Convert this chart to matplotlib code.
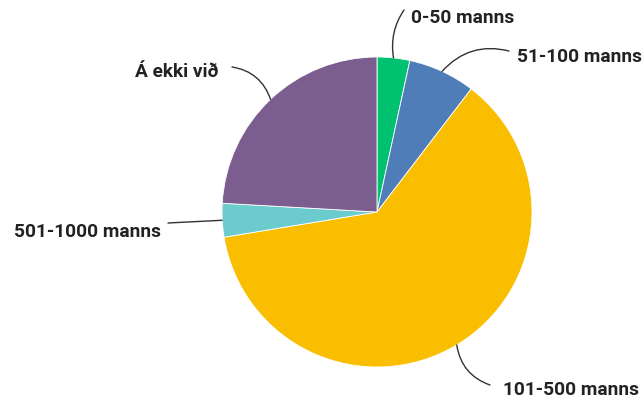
import numpy as np
import matplotlib.pyplot as plt

# Share of responses per size group (percent)
labels = ["0-50 manns", "51-100 manns", "101-500 manns", "501-1000 manns", "Á ekki við"]
values = [3.4, 7.0, 62.0, 3.5, 24.1]
colors = ["#00c170", "#4f7db7", "#f9be00", "#6ccbcd", "#7b5e8f"]

# label text placement (pixel coords, y from top) and line start
text_pos = [(411, 18), (517, 57), (503, 390), (14, 232), (218, 72)]
text_ha = ["left", "left", "left", "left", "right"]
line_start = [(404, 11), (509, 52), (490, 386), (168, 224), (232, 68)]
line_rad = [0.2, 0.3, -0.3, 0.0, -0.3]

W, H = 644, 402
fig = plt.figure(figsize=(W / 100, H / 100), dpi=100)
ax = fig.add_axes([0, 0, 1, 1])

cx, cy, r = 377, H - 213, 155
wedges, _ = ax.pie(values, colors=colors, startangle=90, counterclock=False,
                   center=(cx, cy), radius=r, frame=True,
                   wedgeprops=dict(edgecolor="white", linewidth=0.6))
ax.set_xlim(0, W)
ax.set_ylim(0, H)
ax.set_aspect("equal")
ax.axis("off")

for i, w in enumerate(wedges):
    ang = np.deg2rad((w.theta1 + w.theta2) / 2)
    px = cx + r * np.cos(ang)
    py = cy + r * np.sin(ang)
    sx, sy = line_start[i]
    ax.annotate("", xy=(px, py), xytext=(sx, H - sy),
                arrowprops=dict(arrowstyle="-", color="#333333", lw=1.0,
                                shrinkA=0, shrinkB=0,
                                connectionstyle=f"arc3,rad={line_rad[i]}"))
    tx, ty = text_pos[i]
    ax.text(tx, H - ty, labels[i], ha=text_ha[i], va="center",
            fontsize=13.8, fontweight="bold", family="Roboto", color="#222222")

fig.savefig("out.png", dpi=100)
